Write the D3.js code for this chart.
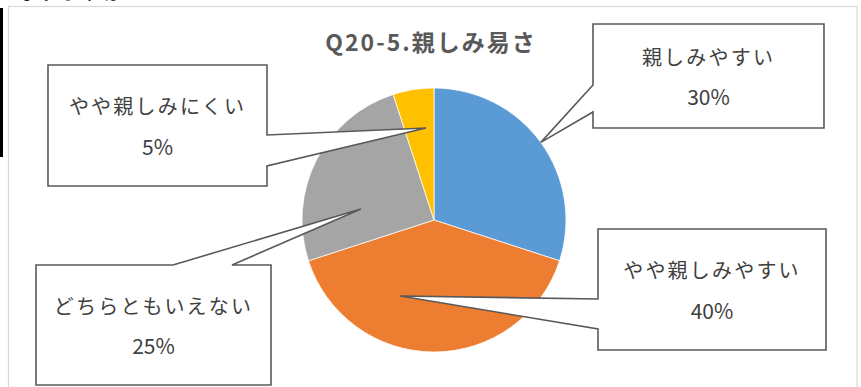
<!DOCTYPE html>
<html><head><meta charset="utf-8">
<script src="https://cdn.jsdelivr.net/npm/d3@7"></script>
<style>
html,body{margin:0;padding:0;background:#fff;overflow:hidden}
svg{display:block;font-family:"Noto Sans CJK JP","Noto Sans",sans-serif}
</style></head>
<body>
<svg id="c" width="861" height="387"></svg>
<script>
// ---- data ----
const title = "Q20-5.親しみ易さ";
const categories = ["親しみやすい", "やや親しみやすい", "どちらともいえない", "やや親しみにくい"];
const values = [30, 40, 25, 5];
const valueLabels = ["30%", "40%", "25%", "5%"];
const colors = ["#5B9BD5", "#ED7D31", "#A5A5A5", "#FFC000"];

// ---- layout (callout boxes and pointer tips, per category) ----
const calloutLayout = [
  {box:[593,24,824,128], side:"left", base:[112,85], tipAngle:54, tipR:1.0},
  {box:[598,229,826,350], side:"left", base:[329,299], tipAngle:204, tipR:0.63},
  {box:[36,265,271,385], side:"top", base:[173,232], tipAngle:278.6, tipR:0.56},
  {box:[48,65,267,186], side:"right", base:[135,166], tipAngle:355, tipR:0.70}
];

const svg = d3.select("#c");
const cx = 434, cy = 220, R = 132;

// partial text cut at top and left black bar (part of surrounding document)
svg.append("text").attr("x", -6).attr("y", -1).attr("font-size", 22).attr("fill", "#000").text("となりますか");
svg.append("rect").attr("x", 0).attr("y", 8).attr("width", 3).attr("height", 149).attr("fill", "#000");

// chart frame
svg.append("rect").attr("x", 8.5).attr("y", 6.5).attr("width", 848.5).attr("height", 400)
  .attr("fill", "#fff").attr("stroke", "#d9d9d9").attr("stroke-width", 1.2);

// title
svg.append("text").attr("x", 431).attr("y", 51).attr("text-anchor", "middle")
  .attr("font-size", 23).attr("font-weight", "bold").attr("letter-spacing", 2)
  .attr("fill", "#595959").text(title);

// pie
const pie = d3.pie().sort(null).value(d => d.v);
const data = categories.map((c, i) => ({c, v: values[i], lab: valueLabels[i], col: colors[i], lay: calloutLayout[i]}));
const arcs = pie(data);
const arc = d3.arc().innerRadius(0).outerRadius(R);
const g = svg.append("g").attr("transform", `translate(${cx},${cy})`);
g.selectAll("path").data(arcs).join("path")
  .attr("d", arc).attr("fill", d => d.data.col)
  .attr("stroke", "#fff").attr("stroke-width", 0.75);

// callouts
const toRad = a => a * Math.PI / 180;
arcs.forEach(a => {
  const L = a.data.lay;
  const [x0, y0, x1, y1] = L.box;
  const ang = toRad(L.tipAngle);
  const tx = cx + L.tipR * R * Math.sin(ang);
  const ty = cy - L.tipR * R * Math.cos(ang);
  let p;
  if (L.side === "left") {
    p = `M${x0},${y0}H${x1}V${y1}H${x0}V${L.base[0]}L${tx},${ty}L${x0},${L.base[1]}Z`;
  } else if (L.side === "right") {
    p = `M${x0},${y0}H${x1}V${L.base[0]}L${tx},${ty}L${x1},${L.base[1]}V${y1}H${x0}Z`;
  } else {
    p = `M${x0},${y0}H${L.base[0]}L${tx},${ty}L${L.base[1]},${y0}H${x1}V${y1}H${x0}Z`;
  }
  svg.append("path").attr("d", p).attr("fill", "#fff")
    .attr("stroke", "#595959").attr("stroke-width", 1.6).attr("stroke-linejoin", "miter");
  const mx = (x0 + x1) / 2, my = (y0 + y1) / 2;
  svg.append("text").attr("x", mx).attr("y", my - 20).attr("text-anchor", "middle")
    .attr("dominant-baseline", "central").attr("font-size", 20).attr("letter-spacing", 2.2)
    .attr("fill", "#404040").text(a.data.c);
  svg.append("text").attr("x", mx).attr("y", my + 20).attr("text-anchor", "middle")
    .attr("dominant-baseline", "central").attr("font-size", 21)
    .attr("fill", "#404040").text(a.data.lab);
});
</script>
</body></html>
